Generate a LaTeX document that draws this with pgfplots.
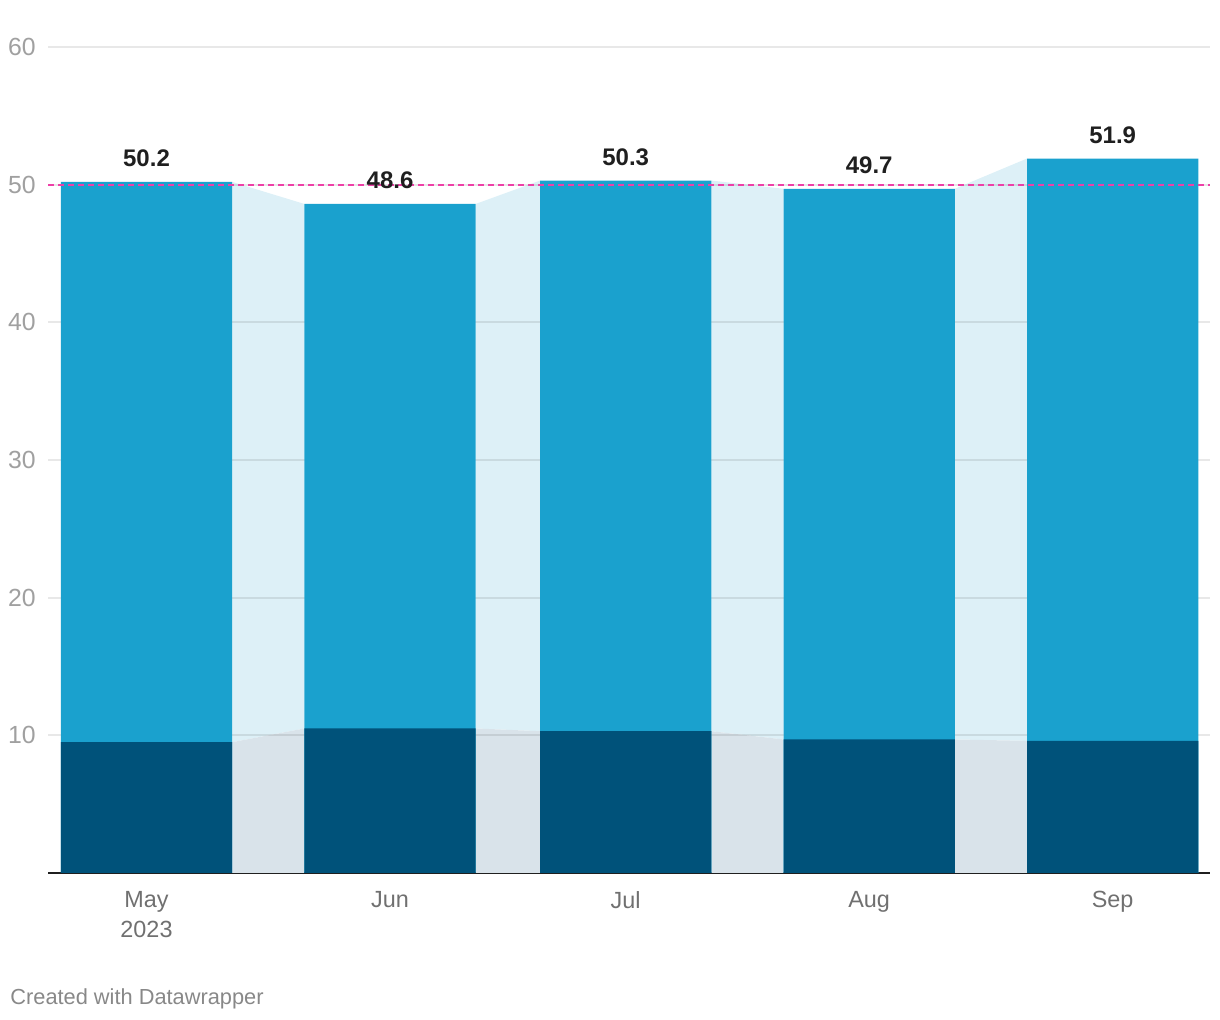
\documentclass[border=0pt]{standalone}
\usepackage{fontspec}
\setmainfont{Liberation Sans}
\usepackage{pgfplots}
\pgfplotsset{compat=1.18}

\definecolor{barlight}{HTML}{1AA1CE}
\definecolor{bardark}{HTML}{00527A}
\definecolor{linklight}{HTML}{DDF0F7}
\definecolor{linkdark}{HTML}{D9E3EA}
\definecolor{refline}{HTML}{EE3FA7}
\definecolor{ticktext}{HTML}{A0A0A0}
\definecolor{cattext}{HTML}{707070}
\definecolor{foot}{HTML}{888888}

\begin{document}
\begin{tikzpicture}
\path[use as bounding box] (0,0) rectangle (610pt,510pt);
\begin{axis}[
    at={(24pt,73.5pt)}, anchor=south west,
    scale only axis,
    width=581pt, height=413pt,
    xmin=-12.54, xmax=135.39,
    ymin=0, ymax=60,
    axis x line*=bottom,
    axis y line*=left,
    y axis line style={draw=none},
    x axis line style={draw=black!88, line width=1.1pt, -},
    major tick length=0pt,
    ytick={10,20,...,60},
    xtick={0,31,61,92,123},
    xticklabels={May\\2023, Jun, Jul, Aug, Sep},
    /pgf/number format/assume math mode=true,
    yticklabel style={font=\fontsize{12.4}{14}\selectfont, text=ticktext,
        anchor=east, inner sep=0pt, xshift=-6pt},
    xticklabel style={font=\fontsize{11.7}{15}\selectfont, text=cattext,
        align=center, anchor=north, inner sep=0pt, yshift=-9pt},
    clip=false,
]
% connectors between bars: upper part
\addplot[fill=linklight, draw=none] coordinates {(10.9,50.2) (20.1,48.6) (20.1,10.5) (10.9,9.5)};
\addplot[fill=linklight, draw=none] coordinates {(41.9,48.6) (50.1,50.3) (50.1,10.3) (41.9,10.5)};
\addplot[fill=linklight, draw=none] coordinates {(71.9,50.3) (81.1,49.7) (81.1,9.7) (71.9,10.3)};
\addplot[fill=linklight, draw=none] coordinates {(102.9,49.7) (112.1,51.9) (112.1,9.6) (102.9,9.7)};
% connectors: lower part
\addplot[fill=linkdark, draw=none] coordinates {(10.9,9.5) (20.1,10.5) (20.1,0) (10.9,0)};
\addplot[fill=linkdark, draw=none] coordinates {(41.9,10.5) (50.1,10.3) (50.1,0) (41.9,0)};
\addplot[fill=linkdark, draw=none] coordinates {(71.9,10.3) (81.1,9.7) (81.1,0) (71.9,0)};
\addplot[fill=linkdark, draw=none] coordinates {(102.9,9.7) (112.1,9.6) (112.1,0) (102.9,0)};
% grid lines
\pgfplotsinvokeforeach{10,20,30,40,50,60}{
  \addplot[black, opacity=0.09, line width=1pt] coordinates {(-12.54,#1) (135.39,#1)};
}
% totals
\addplot[ybar, bar width=21.8, bar shift=0pt, fill=barlight, draw=none,
    point meta=y, nodes near coords,
    nodes near coords style={font=\fontsize{12}{14}\selectfont\bfseries, text=black!88,
        anchor=south, inner sep=0pt, yshift=7.3pt,
        /pgf/number format/.cd, fixed, precision=1, fixed zerofill}]
    coordinates {(0,50.2) (31,48.6) (61,50.3) (92,49.7) (123,51.9)};
% lower segment
\addplot[ybar, bar width=21.8, bar shift=0pt, fill=bardark, draw=none]
    coordinates {(0,9.5) (31,10.5) (61,10.3) (92,9.7) (123,9.6)};
% reference line
\addplot[refline, line width=1pt, dash pattern=on 3pt off 2pt] coordinates {(-12.54,50) (135.39,50)};
\end{axis}
\node[anchor=west, inner sep=0pt, text=foot, font=\fontsize{10.9}{13}\selectfont] at (5pt,10.5pt) {Created with Datawrapper};
\end{tikzpicture}
\end{document}
